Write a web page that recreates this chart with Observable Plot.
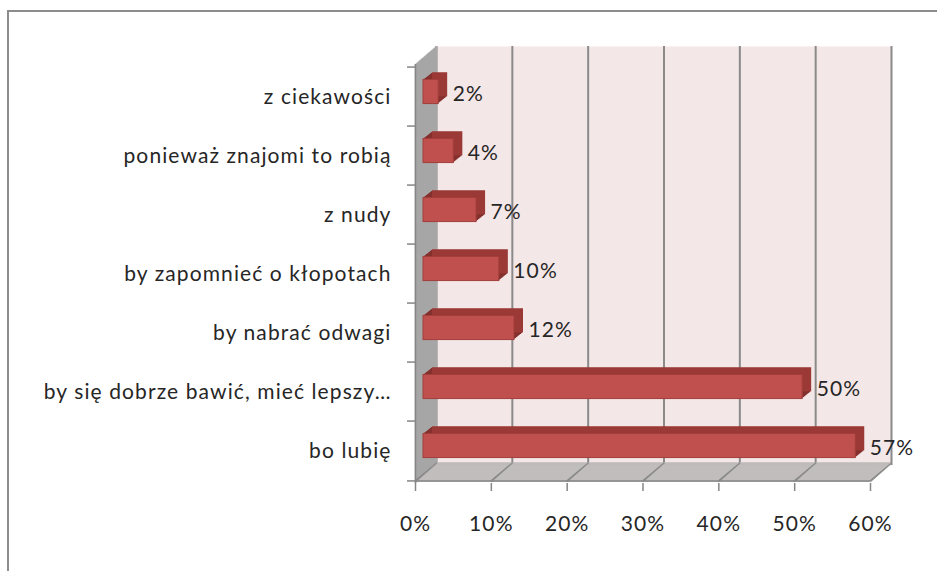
<!DOCTYPE html>
<html>
<head>
<meta charset="utf-8">
<script src="https://cdn.jsdelivr.net/npm/d3@7"></script>
<script src="https://cdn.jsdelivr.net/npm/@observablehq/plot@0.6"></script>
<style>
  html, body { margin: 0; padding: 0; background: #fff; overflow: hidden; }
  #wrap { position: relative; width: 937px; height: 571px; }
  #border { position: absolute; left: 7px; top: 10px; width: 1000px; height: 700px; border: 2px solid #8c8c8c; box-sizing: border-box; }
  #chart { position: absolute; left: 0; top: 0; }
  #chart text { letter-spacing: 1.1px; }
</style>
</head>
<body>
<div id="wrap"><div id="border"></div><div id="chart"></div></div>
<script>
const categories = [
  "z ciekawości",
  "ponieważ znajomi to robią",
  "z nudy",
  "by zapomnieć o kłopotach",
  "by nabrać odwagi",
  "by się dobrze bawić, mieć lepszy…",
  "bo lubię"
];
const values = [2, 4, 7, 10, 12, 50, 57];
const xTicks = [0, 10, 20, 30, 40, 50, 60];

const data = categories.map((c, i) => ({category: c, value: values[i]}));

const W = 937, H = 571, mL = 415, mR = 67, mT = 64, mB = 88;
const step = (H - mT - mB) / categories.length;
const depthX = 21, depthY = 18;
const last = categories[categories.length - 1];

const marks = [];
// back wall
marks.push(Plot.frame({fill: "#f4e7e7", stroke: null, dx: depthX, dy: -depthY}));
// back wall grid lines
marks.push(Plot.ruleX(xTicks, {x: d => d, stroke: "#8a8a8a", strokeWidth: 2, dx: depthX, dy: -depthY}));
// side wall (extruded)
for (let k = 0; k <= depthX; k++) {
  marks.push(Plot.ruleX([0], {x: d => d, stroke: "#a7a7a7", strokeWidth: 1.6, dx: k, dy: -k * depthY / depthX}));
}
// floor (extruded)
for (let k = 0; k <= depthY; k++) {
  marks.push(Plot.ruleY([last], {y: d => d, x1: 0, x2: 60, stroke: "#bdb9b9", strokeWidth: 1.6, dx: k * depthX / depthY, dy: step / 2 - k}));
}
// floor grid diagonals
marks.push(Plot.vector(xTicks, {x: d => d, y: () => last, dy: step / 2, length: Math.hypot(depthX, depthY), rotate: Math.atan2(depthX, depthY) * 180 / Math.PI, anchor: "start", shape: "spike", r: 0.4, fill: "#8a8a8a", stroke: "#8a8a8a", strokeWidth: 1.2}));
// front axis lines
marks.push(Plot.ruleX([0], {x: d => d, stroke: "#868686", strokeWidth: 1.5}));
marks.push(Plot.ruleY([last], {y: d => d, x1: 0, x2: 60, dy: step / 2, stroke: "#868686", strokeWidth: 1.5}));
// y axis ticks at band boundaries
marks.push(Plot.ruleY(categories, {y: d => d, x1: 0, x2: 0, insetLeft: -8, dy: -step / 2, stroke: "#868686", strokeWidth: 1.5}));
marks.push(Plot.ruleY([last], {y: d => d, x1: 0, x2: 0, insetLeft: -8, dy: step / 2, stroke: "#868686", strokeWidth: 1.5}));
// bars: extrusion (top / side faces)
const barInset = (step - 25) / 2;
for (let k = 1; k <= 9; k++) {
  marks.push(Plot.barX(data, {x: "value", y: "category", insetTop: barInset, insetBottom: barInset, fill: k === 9 ? "#9a3936" : "#84302e", dx: 8 + k, dy: -5 - k * 0.8}));
}
// bars: front face
marks.push(Plot.barX(data, {x: "value", y: "category", insetTop: barInset, insetBottom: barInset, fill: "#c0504d", stroke: "#a23e3b", strokeWidth: 1, dx: 8, dy: -5}));
// data labels
marks.push(Plot.text(data, {x: "value", y: "category", text: d => d.value + "%", textAnchor: "start", dx: 22, dy: -3, fill: "#262626", fontSize: 21}));

const chart = Plot.plot({
  width: W, height: H,
  marginLeft: mL, marginRight: mR, marginTop: mT, marginBottom: mB,
  style: {fontFamily: "Lato, 'Open Sans', sans-serif", fontSize: "21px", color: "#262626", background: "transparent"},
  x: {domain: [0, 60], ticks: xTicks, tickFormat: d => d + "%", tickSize: 8, tickPadding: 25, label: null},
  y: {domain: categories, padding: 0, tickSize: 0, tickPadding: 24, label: null},
  marks
});
d3.select(chart).selectAll("g[aria-label='x-axis tick'] path, g[aria-label='x-axis tick']").attr("stroke", "#868686").attr("stroke-width", 1.5);
document.getElementById("chart").appendChild(chart);
</script>
</body>
</html>
